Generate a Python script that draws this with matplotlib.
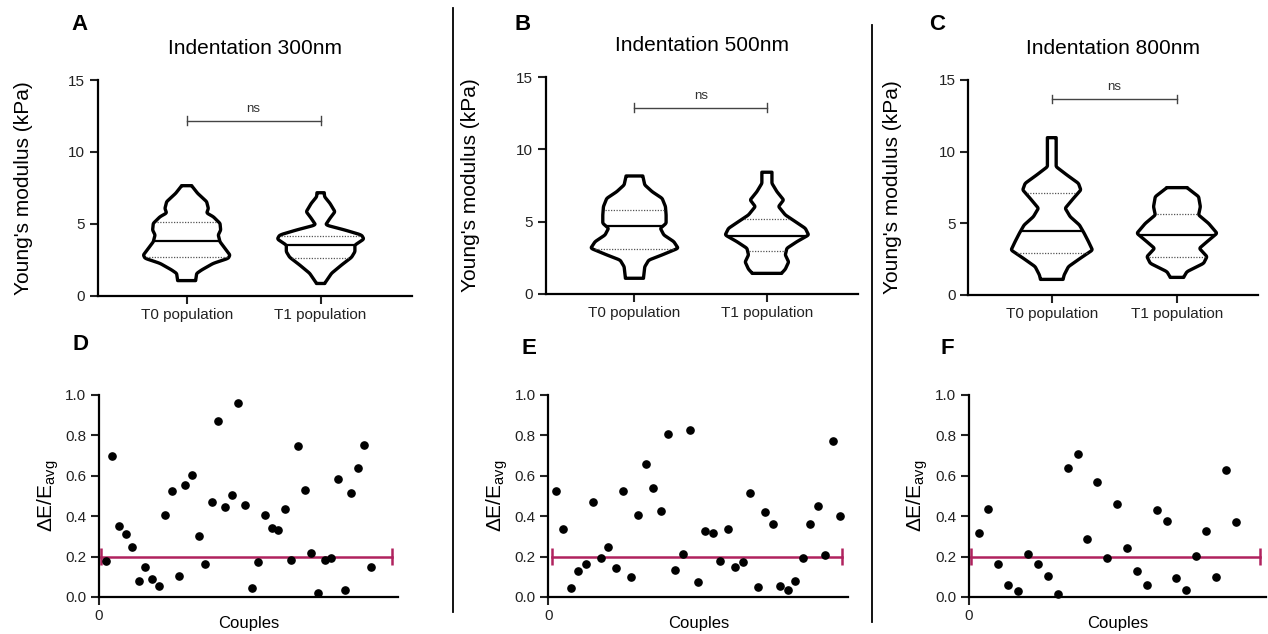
import numpy as np
import matplotlib
matplotlib.use("Agg")
import matplotlib.pyplot as plt
from matplotlib.lines import Line2D

plt.rcParams['font.family'] = ['Liberation Sans', 'DejaVu Sans']
plt.rcParams['mathtext.fontset'] = 'custom'
plt.rcParams['mathtext.rm'] = 'Liberation Sans'
plt.rcParams['mathtext.it'] = 'Liberation Sans:italic'

# ---- data ----
titles = ["Indentation 300nm", "Indentation 500nm", "Indentation 800nm"]
groups = ["T0 population", "T1 population"]

# violin outlines: y value (kPa) and half width (in category units), bottom -> top
a_t0_y = [1.05, 1.55, 1.79, 2.25, 2.6, 2.83, 3.29, 3.75, 4.22, 4.57, 5.03, 5.49, 5.75, 6.07, 6.54, 7.12, 7.65]
a_t0_w = [0.067, 0.075, 0.112, 0.199, 0.311, 0.323, 0.286, 0.249, 0.236, 0.254, 0.249, 0.199, 0.15, 0.162, 0.149, 0.082, 0.037]
a_t1_y = [0.85, 1.56, 2.14, 2.67, 3.06, 3.52, 3.94, 4.22, 4.57, 4.92, 5.38, 5.84, 6.42, 6.88, 7.16]
a_t1_w = [0.03, 0.082, 0.157, 0.231, 0.256, 0.256, 0.323, 0.306, 0.18, 0.037, 0.07, 0.107, 0.07, 0.03, 0.027]
b_t0_y = [1.07, 1.87, 2.33, 2.69, 3.15, 3.61, 4.07, 4.53, 4.88, 5.46, 6.04, 6.61, 7.07, 7.54, 8.16]
b_t0_w = [0.068, 0.078, 0.108, 0.209, 0.33, 0.297, 0.222, 0.196, 0.239, 0.239, 0.234, 0.209, 0.134, 0.078, 0.063]
b_t1_y = [1.41, 1.7, 2.2, 2.69, 3.15, 3.61, 4.07, 4.53, 5.0, 5.46, 6.04, 6.5, 7.07, 7.65, 8.42]
b_t1_w = [0.11, 0.139, 0.164, 0.139, 0.151, 0.227, 0.315, 0.29, 0.214, 0.139, 0.088, 0.126, 0.076, 0.038, 0.038]
c_t0_y = [1.07, 1.38, 1.96, 2.54, 3.12, 3.71, 4.29, 4.87, 5.45, 6.04, 6.73, 7.32, 7.78, 8.37, 8.94, 10.97]
c_t0_w = [0.09, 0.099, 0.133, 0.227, 0.325, 0.293, 0.259, 0.221, 0.147, 0.107, 0.173, 0.232, 0.213, 0.12, 0.035, 0.035]
c_t1_y = [1.21, 1.61, 2.19, 2.66, 3.24, 3.70, 4.29, 4.98, 5.57, 6.15, 6.85, 7.48]
c_t1_w = [0.053, 0.08, 0.213, 0.24, 0.179, 0.24, 0.32, 0.253, 0.173, 0.187, 0.173, 0.08]

# quartiles (q1, median, q3)
a_q = [(2.68, 3.78, 5.15), (2.62, 3.5, 4.17)]
b_q = [(3.08, 4.67, 5.80), (2.98, 4.0, 5.16)]
c_q = [(2.92, 4.42, 7.08), (2.66, 4.15, 5.61)]
ns_y = [12.17, 12.9, 13.68]

# relative difference per couple
d_vals = [0.178, 0.698, 0.353, 0.310, 0.246, 0.081, 0.147, 0.089, 0.056, 0.404,
          0.526, 0.106, 0.556, 0.604, 0.302, 0.162, 0.472, 0.871, 0.444, 0.507,
          0.962, 0.455, 0.043, 0.175, 0.406, 0.343, 0.330, 0.437, 0.185, 0.747,
          0.530, 0.219, 0.018, 0.185, 0.193, 0.584, 0.033, 0.517, 0.639, 0.754, 0.149]
e_vals = [0.523, 0.337, 0.046, 0.129, 0.165, 0.469, 0.193, 0.248, 0.145, 0.523,
          0.099, 0.406, 0.660, 0.538, 0.427, 0.807, 0.134, 0.213, 0.828, 0.074,
          0.327, 0.315, 0.177, 0.335, 0.149, 0.175, 0.515, 0.051, 0.419, 0.363,
          0.054, 0.036, 0.079, 0.193, 0.360, 0.450, 0.206, 0.771, 0.403]
f_vals = [0.318, 0.434, 0.165, 0.061, 0.028, 0.213, 0.162, 0.104, 0.013, 0.639,
          0.706, 0.289, 0.568, 0.195, 0.459, 0.243, 0.130, 0.059, 0.432, 0.376,
          0.096, 0.036, 0.203, 0.328, 0.099, 0.629, 0.371]
threshold = 0.2

MAG = '#b0225e'
W, H = 1268, 634


def fig_rect(l, r, b, t):
    return [l / W, 1 - b / H, (r - l) / W, (b - t) / H]


def draw_violin(ax, pos, ys, ws, q):
    yy = np.linspace(ys[0], ys[-1], 400)
    ww = np.interp(yy, ys, ws)
    n = max(3, int(0.16 / (yy[1] - yy[0])) | 1)
    padded = np.pad(ww, n // 2, mode='edge')
    ww = np.convolve(padded, np.ones(n) / n, mode='valid')
    xs = np.concatenate([pos - ww, (pos + ww)[::-1]])
    yv = np.concatenate([yy, yy[::-1]])
    ax.fill(xs, yv, facecolor='white', edgecolor='black', lw=2.4, joinstyle='round', zorder=2)
    q1, med, q3 = q
    for val, ls, lw, col in [(q1, (0, (1, 1.2)), 0.9, '#555555'), (q3, (0, (1, 1.2)), 0.9, '#555555'),
                             (med, '-', 1.6, 'black')]:
        hw = np.interp(val, yy, ww) - 0.012
        ax.plot([pos - hw, pos + hw], [val, val], ls=ls, lw=lw, color=col, zorder=3)


top_rects = [fig_rect(97.7, 411.7, 295.7, 80), fig_rect(545.7, 858.3, 293.7, 77.3),
             fig_rect(968.3, 1258.3, 294.7, 80)]
top_xlims = [(0.336, 2.68), (0.33, 2.69), (0.333, 2.65)]
ylab_x = [-0.2045, -0.21, -0.23]
violins = [[(a_t0_y, a_t0_w), (a_t1_y, a_t1_w)],
           [(b_t0_y, b_t0_w), (b_t1_y, b_t1_w)],
           [(c_t0_y, c_t0_w), (c_t1_y, c_t1_w)]]
quarts = [a_q, b_q, c_q]

fig = plt.figure(figsize=(12.68, 6.34), dpi=100)

for i in range(3):
    ax = fig.add_axes(top_rects[i])
    for j in range(2):
        draw_violin(ax, j + 1, violins[i][j][0], violins[i][j][1], quarts[i][j])
    # ns bracket
    ax.plot([1, 2], [ns_y[i], ns_y[i]], color='#444444', lw=1.0)
    for xx in [1, 2]:
        ax.plot([xx, xx], [ns_y[i] - 0.3, ns_y[i] + 0.3], color='#444444', lw=1.0)
    ax.text(1.5, ns_y[i] + 0.4, 'ns', ha='center', va='bottom', fontsize=9.5, color='#333333')
    ax.set_xlim(*top_xlims[i])
    ax.set_ylim(0, 15)
    ax.set_yticks([0, 5, 10, 15])
    ax.set_xticks([1, 2])
    ax.set_xticklabels(groups)
    ax.set_title(titles[i], fontsize=15, pad=19)
    ax.set_ylabel("Young's modulus (kPa)", fontsize=15)
    ax.yaxis.set_label_coords(ylab_x[i], 0.5)
    for s in ['top', 'right']:
        ax.spines[s].set_visible(False)
    for s in ['left', 'bottom']:
        ax.spines[s].set_linewidth(1.6)
    ax.tick_params(direction='out', length=6, width=1.5, labelsize=11, pad=3, colors='#222222')

bot_rects = [fig_rect(99, 398, 597, 395), fig_rect(548.3, 848.3, 597, 395),
             fig_rect(968.7, 1266, 597, 395)]
bot_xmax = [45.06, 40.1, 30.05]
thr_span = [(0.35, 44.1), (0.45, 39.3), (0.23, 29.45)]
bot_ylab_x = [-0.127, -0.128, -0.13]
scatters = [d_vals, e_vals, f_vals]

for i in range(3):
    ax = fig.add_axes(bot_rects[i])
    vals = scatters[i]
    xs = np.arange(1, len(vals) + 1)
    x0, x1 = thr_span[i]
    ax.plot([x0, x1], [threshold, threshold], color=MAG, lw=1.8, zorder=2)
    ax.vlines([x0, x1], threshold - 0.044, threshold + 0.044, color=MAG, lw=1.8, zorder=2)
    ax.plot(xs, vals, 'o', color='black', ms=5.2, zorder=3, clip_on=False)
    ax.set_xlim(0, bot_xmax[i])
    ax.set_ylim(0, 1)
    ax.set_yticks(np.arange(0, 1.01, 0.2))
    ax.set_yticklabels(['%.1f' % t for t in np.arange(0, 1.01, 0.2)])
    ax.set_xticks([0])
    ax.set_xlabel('Couples', fontsize=12)
    ax.xaxis.set_label_coords(0.5, -0.095)
    ax.set_ylabel(r'$\Delta$E/E$_{\mathrm{avg}}$', fontsize=15)
    ax.yaxis.set_label_coords(bot_ylab_x[i], 0.5)
    for s in ['top', 'right']:
        ax.spines[s].set_visible(False)
    for s in ['left', 'bottom']:
        ax.spines[s].set_linewidth(1.6)
    ax.tick_params(direction='out', length=6, width=1.5, labelsize=11, pad=3, colors='#222222')

# panel letters
letters = [('A', 79, 24), ('B', 523, 24), ('C', 937, 24),
           ('D', 80, 345), ('E', 529, 348), ('F', 947, 348)]
for lab, x, y in letters:
    fig.text(x / W, 1 - y / H, lab, fontsize=16, fontweight='bold', ha='center', va='center')

# separators
fig.add_artist(Line2D([452.7 / W, 452.7 / W], [1 - 8 / H, 1 - 612 / H], color='black', lw=1.3))
fig.add_artist(Line2D([871.7 / W, 871.7 / W], [1 - 25 / H, 1 - 622 / H], color='black', lw=1.3))

fig.savefig('out.png', dpi=100)
